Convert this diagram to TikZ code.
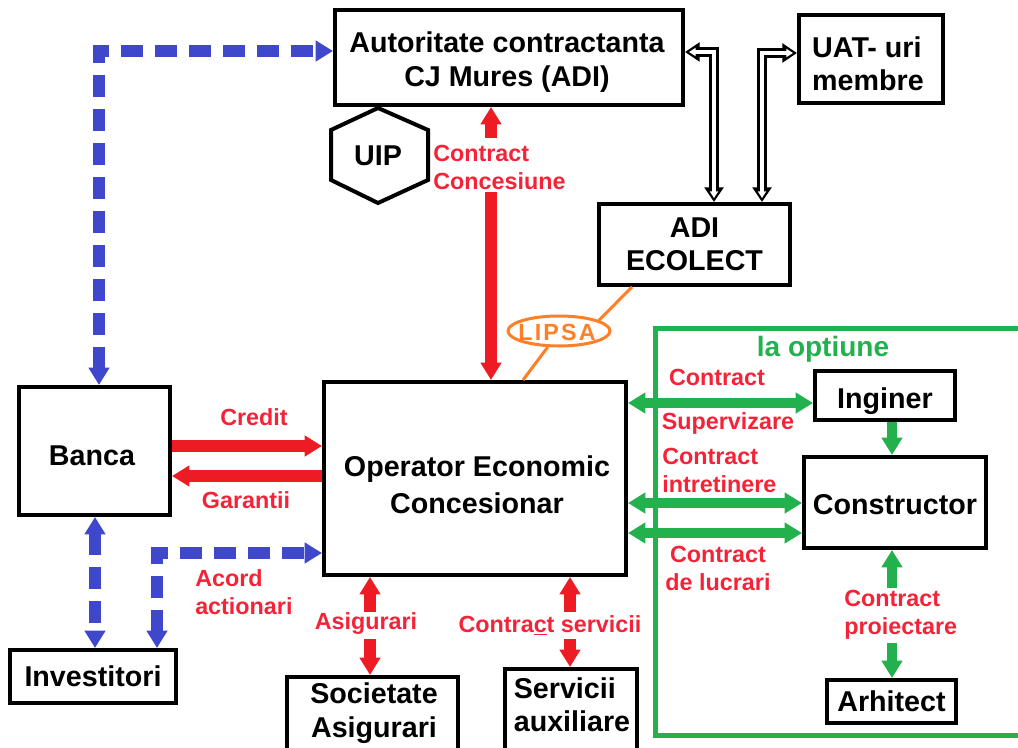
\documentclass[tikz,border=0pt]{standalone}
\usepackage{fontspec}
\setmainfont{Liberation Sans}
\usetikzlibrary{arrows.meta,shapes.geometric}
\definecolor{ared}{RGB}{237,28,36}
\definecolor{tred}{RGB}{245,35,55}
\definecolor{ablue}{RGB}{63,72,204}
\definecolor{agreen}{RGB}{34,177,76}
\definecolor{aorange}{RGB}{255,127,39}
\tikzset{
  bigtip/.tip={Triangle[width=15pt,length=13pt]},
  holotip/.tip={Triangle[width=14pt,length=11pt]},
  holoint/.tip={Triangle[width=6pt,length=5pt]},
  box/.style={draw, line width=3pt, fill=white, inner sep=0pt, align=center,
    font=\bfseries\fontsize{21.5}{25}\selectfont},
  btext/.style={inner sep=0pt, font=\bfseries\fontsize{21.5}{25}\selectfont},
  lbl/.style={inner sep=0pt, text=tred, font=\bfseries\fontsize{17.5}{21}\selectfont},
  redarr/.style={draw=ared, line width=9pt},
  greenarr/.style={draw=agreen, line width=7.5pt},
  bluedash/.style={draw=ablue, line width=9pt, dash pattern=on 16.5pt off 9pt, line join=miter},
  holo/.style={draw=black, line width=8pt, line join=miter, holotip-holotip},
  holoin/.style={draw=white, line width=2.5pt, line join=miter, shorten <=3pt, shorten >=3pt, holoint-holoint},
}
\begin{document}
\begin{tikzpicture}[x=0.75pt,y=-0.75pt]
\useasboundingbox (0,0) rectangle (1018,748);
\clip (0,0) rectangle (1018,748);

% green frame
\draw[agreen, line width=3.75pt] (1030,329) -- (655,329) -- (655,735) -- (1030,735);
\node[inner sep=0pt, text=agreen, font=\bfseries\fontsize{21}{25}\selectfont] (opt) at (823,349) {la optiune};

% boxes
\node[box, minimum width=261pt, minimum height=71.25pt] (aut) at (509,57.5) {};
\node[btext, align=center] (autt) at (507,62) {Autoritate contractanta\\CJ Mures (ADI)};
\node[box, minimum width=108pt, minimum height=66pt] (uat) at (871,59) {};
\node[btext, align=left] (uatt) at (868,64) {UAT- uri\\membre};
\node[box, minimum width=143.25pt, minimum height=60.75pt] (adi) at (694.5,244.5) {ADI\\ECOLECT};
\node[box, minimum width=113.25pt, minimum height=96pt] (banca) at (94.5,451) {};
\node[btext] (bancat) at (92,456) {Banca};
\node[box, minimum width=124.5pt, minimum height=39.75pt] (inv) at (93,676.5) {Investitori};
\node[box, minimum width=226.5pt, minimum height=144.75pt] (op) at (475,478.5) {};
\node[btext, align=center, font=\bfseries\fontsize{21.5}{27.5}\selectfont] (opt2) at (477,485) {Operator Economic\\Concesionar};
\node[box, minimum width=105pt, minimum height=36.75pt] (ing) at (885,395.5) {};
\node[btext] (ingt) at (885,401.5) {Inginer};
\node[box, minimum width=136.5pt, minimum height=68.25pt] (cons) at (895,502.5) {};
\node[btext] (const) at (895,504.5) {Constructor};
\node[box, minimum width=96.75pt, minimum height=32.25pt] (arh) at (891.5,701.5) {Arhitect};
\node[box, minimum width=128.25pt, minimum height=62.25pt] (soc) at (372.5,718.5) {};
\node[btext, align=center] (soct) at (374,713) {Societate\\Asigurari};
\node[box, minimum width=99pt, minimum height=68.25pt] (serv) at (571,714.5) {};
\node[btext, align=left] (servt) at (572,705) {Servicii\\auxiliare};

% UIP hexagon
\draw[line width=3pt, fill=white] (378,108) -- (428,130) -- (428,180) -- (378,203) -- (331,180) -- (331,130) -- cycle;
\node[btext] (uip) at (378,156) {UIP};

% LIPSA
\node[ellipse, draw=aorange, line width=2.25pt, minimum width=76.5pt, minimum height=22.5pt, inner sep=0pt] (lipsa) at (559,331) {};
\node[inner sep=0pt, text=aorange, font=\bfseries\fontsize{17.5}{21}\selectfont] (lipsat) at (557,332) {L\kern1.6ptI\kern1.6ptP\kern1.6ptS\kern1.6ptA};
\coordinate (ox1) at (632,0);
\coordinate (ox2) at (523,0);
\draw[aorange, line width=2.25pt] (adi.south -| ox1) -- (lipsa.15);
\draw[aorange, line width=2.25pt] (lipsa.235) -- (op.north -| ox2);

% blue dashed
\coordinate (b1x) at (99,0); \coordinate (b1y) at (0,51);
\draw[bluedash, bigtip-bigtip] (banca.north -| b1x) -- (b1x |- b1y) -- (aut.west |- b1y);
\coordinate (b2x) at (95,0);
\draw[bluedash, bigtip-bigtip] (banca.south -| b2x) -- (inv.north -| b2x);
\coordinate (b3x) at (157,0); \coordinate (b3y) at (0,553);
\draw[bluedash, bigtip-bigtip] (inv.north -| b3x) -- (b3x |- b3y) -- (op.west |- b3y);
\node[lbl, align=left, anchor=west] (acord) at (195,592) {Acord\\actionari};

% red: concesiune
\coordinate (rc1) at (491,138); \coordinate (rc2) at (491,192);
\draw[redarr, -bigtip] (rc1) -- (aut.south -| rc1);
\draw[redarr, -bigtip] (rc2) -- (op.north -| rc2);
\node[lbl, align=left, anchor=west] (concl) at (433,167) {Contract\\Concesiune};

% red: credit / garantii
\coordinate (cry) at (0,446); \coordinate (gay) at (0,476);
\draw[redarr, -bigtip] (banca.east |- cry) -- (op.west |- cry);
\draw[redarr, -bigtip] (op.west |- gay) -- (banca.east |- gay);
\node[lbl] (credl) at (254,417) {Credit};
\node[lbl] (garl) at (246,500) {Garantii};

% red: asigurari / servicii
\coordinate (as1) at (370,612); \coordinate (as2) at (370,639);
\draw[redarr, -bigtip] (as1) -- (op.south -| as1);
\draw[redarr, -bigtip] (as2) -- (soc.north -| as2);
\node[lbl] (asigl) at (366,624) {Asigurari};
\coordinate (sv1) at (570,612); \coordinate (sv2) at (570,639);
\draw[redarr, -bigtip] (sv1) -- (op.south -| sv1);
\draw[redarr, -bigtip] (sv2) -- (serv.north -| sv2);
\node[lbl] (servl) at (550,625) {Contra\underline{c}t servicii};

% hollow double arrows
\coordinate (h1x) at (714,0); \coordinate (h1y) at (0,52);
\draw[holo] (aut.east |- h1y) -- (h1x |- h1y) -- (adi.north -| h1x);
\draw[holoin] (aut.east |- h1y) -- (h1x |- h1y) -- (adi.north -| h1x);
\coordinate (h2x) at (762,0); \coordinate (h2y) at (0,53);
\draw[holo] (uat.west |- h2y) -- (h2x |- h2y) -- (adi.north -| h2x);
\draw[holoin] (uat.west |- h2y) -- (h2x |- h2y) -- (adi.north -| h2x);

% green arrows
\coordinate (g1y) at (0,403); \coordinate (g2y) at (0,503); \coordinate (g3y) at (0,533);
\draw[greenarr, bigtip-bigtip] (op.east |- g1y) -- (ing.west |- g1y);
\draw[greenarr, bigtip-bigtip] (op.east |- g2y) -- (cons.west |- g2y);
\draw[greenarr, bigtip-bigtip] (op.east |- g3y) -- (cons.west |- g3y);
\coordinate (gx) at (892,0);
\draw[greenarr, -bigtip] (ing.south -| gx) -- (cons.north -| gx);
\coordinate (gp1) at (892,588); \coordinate (gp2) at (892,643);
\draw[greenarr, -bigtip] (gp1) -- (cons.south -| gp1);
\draw[greenarr, -bigtip] (gp2) -- (arh.north -| gp2);

\node[lbl] (supl1) at (717,377) {Contract};
\node[lbl] (supl2) at (728,423) {Supervizare};
\node[lbl, align=left, anchor=west] (intl) at (662,470) {Contract\\intretinere};
\node[lbl, align=center] (lucl) at (718,568) {Contract\\de lucrari};
\node[lbl, align=left, anchor=west] (proil) at (844,615) {Contract\\proiectare};
\end{tikzpicture}
\end{document}
